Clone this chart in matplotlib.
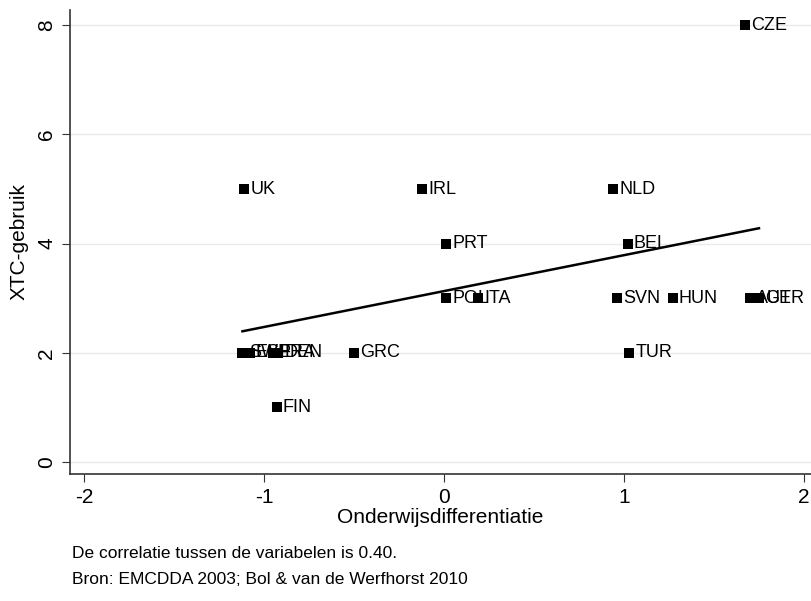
import matplotlib.pyplot as plt
import numpy as np
import matplotlib

matplotlib.rcParams.update({'font.family': 'Liberation Sans', 'font.size': 14,
                            'axes.unicode_minus': False})

# landen, onderwijsdifferentiatie en XTC-gebruik
landen = ["CZE", "UK", "IRL", "NLD", "PRT", "BEL", "POL", "ITA", "SVN", "HUN",
          "AUT", "GER", "SWE", "ESP", "FRA", "DEN", "GRC", "TUR", "FIN"]
diff = [1.67, -1.11, -0.12, 0.94, 0.01, 1.02, 0.01, 0.19, 0.96, 1.27,
        1.70, 1.75, -1.12, -1.08, -0.95, -0.92, -0.50, 1.03, -0.93]
xtc = [8, 5, 5, 5, 4, 4, 3, 3, 3, 3,
       3, 3, 2, 2, 2, 2, 2, 2, 1]

x_ticks = [-2, -1, 0, 1, 2]
y_ticks = [0, 2, 4, 6, 8]

fg = plt.figure(figsize=(8.11, 6.01), dpi=100)
ax = fg.add_axes([70 / 811, 127 / 601, 741 / 811, 464 / 601])

x = np.array(diff)
y = np.array(xtc)
b, a = np.polyfit(x, y, 1)
xl = np.array([x.min(), x.max()])
ax.plot(xl, a + b * xl, color='black', linewidth=1.8, zorder=3)

ax.scatter(x, y, marker='s', s=60, color='black', zorder=4, linewidths=0)
for lab, xi, yi in zip(landen, x, y):
    ax.text(xi + 0.035, yi, lab, va='center', ha='left', fontsize=13, zorder=5,
            clip_on=False)

ax.set_xlim(-2.078, 2.039)
ax.set_ylim(-0.22, 8.28)
ax.set_xticks(x_ticks)
ax.set_yticks(y_ticks)
ax.set_yticklabels([str(t) for t in y_ticks], rotation=90, va='center')
ax.grid(axis='y', color='#eaeaea', linewidth=1)
ax.set_axisbelow(True)
for s in ['top', 'right']:
    ax.spines[s].set_visible(False)
for s in ['left', 'bottom']:
    ax.spines[s].set_color('#333333')
    ax.spines[s].set_linewidth(1.2)
ax.tick_params(direction='out', length=6, color='#333333', labelsize=15, pad=4)

ax.set_xlabel("Onderwijsdifferentiatie", fontsize=15, labelpad=1)
ax.set_ylabel("XTC-gebruik", fontsize=15, labelpad=6)

fg.text(72 / 811, 1 - 554 / 601, "De correlatie tussen de variabelen is 0.40.",
        fontsize=12.5, va='center')
fg.text(72 / 811, 1 - 580 / 601, "Bron: EMCDDA 2003; Bol & van de Werfhorst 2010",
        fontsize=12.5, va='center')

fg.savefig("out.png", dpi=100)
